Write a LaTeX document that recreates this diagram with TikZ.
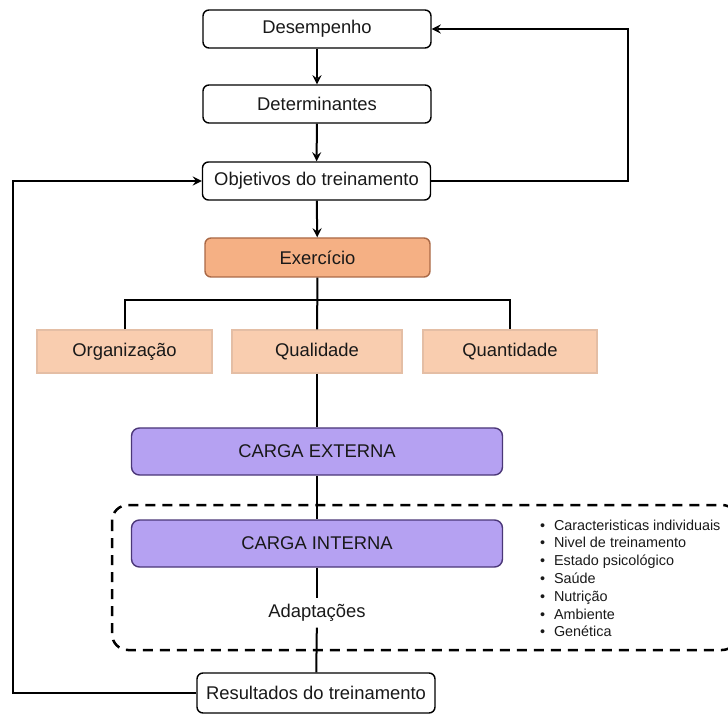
\documentclass[tikz,border=0pt]{standalone}
\usepackage{fontspec}
\setmainfont{Liberation Sans}
\usepackage{tikz}
\definecolor{exer}{RGB}{245, 176, 132}
\definecolor{exerdark}{RGB}{170, 105, 70}
\definecolor{peach}{RGB}{249, 205, 175}
\definecolor{peachline}{RGB}{228, 190, 165}
\definecolor{carga}{RGB}{181, 161, 242}
\definecolor{cargadark}{RGB}{75, 55, 120}

\begin{document}
\begin{tikzpicture}[x=0.5pt, y=-0.5pt, line width=1pt, >=stealth,
  every node/.style={font=\fontsize{9.2}{11}\selectfont, inner sep=0pt, text=black!90},
  whitebox/.style={draw, rounded corners=3pt, fill=white, line width=0.7pt,
                   minimum width=114pt, minimum height=19pt},
  exerbox/.style={draw=exerdark, rounded corners=3pt, fill=exer, line width=0.7pt,
                  minimum width=112.5pt, minimum height=19.5pt},
  peachbox/.style={draw=peachline, fill=peach, line width=0.6pt,
                   minimum width=86pt, minimum height=21.5pt},
  cargabox/.style={draw=cargadark, rounded corners=4pt, fill=carga, line width=0.7pt,
                   minimum width=185.5pt, minimum height=23.5pt},
]

  \useasboundingbox (0, 0) rectangle (728, 716);

  \node[whitebox] (des) at (317, 29) {Desempenho};
  \node[whitebox] (det) at (317, 104) {Determinantes};
  \node[whitebox] (obj) at (316.5, 181) {Objetivos do treinamento};
  \draw[->] (des) -- (det);
  \draw[->] (det) -- (obj);

  %
  \node[exerbox] (exe) at (317.5, 257.5) {Exercício};
  \draw[->] (obj) -- (exe);

  \node[peachbox, minimum width=87.5pt] (org) at (124.5, 351.5) {Organização};
  \node[peachbox, minimum width=85pt] (qua) at (317, 351.5) {Qualidade};
  \node[peachbox, minimum width=87pt] (qnt) at (510, 351.5) {Quantidade};
  \coordinate (branch) at (317, 300);
  \draw (exe) -- (qua);
  \draw (org.north) |- (branch) -| (qnt.north);

  %
  \node[cargabox] (ext) at (317, 451.5) {CARGA EXTERNA};
  \node[cargabox] (int) at (317, 543.5) {CARGA INTERNA};
  \node[inner sep=2.5pt] (ada) at (317, 613) {Adaptações};
  \node[whitebox, minimum width=119pt, minimum height=20pt] (res) at (316, 693)
    {Resultados do treinamento};

  \draw[line width=1.25pt, dashed, dash pattern=on 5pt off 3.5pt, rounded corners=8pt]
    (112, 505) rectangle (738, 650);

  \draw (qua) -- (ext);
  \draw (ext) -- (int);
  \draw (int) -- (ada);
  \draw (ada) -- (res);

  \foreach \t [count=\n] in {Caracteristicas individuais, Nivel de treinamento,
      Estado psicológico, Saúde, Nutrição, Ambiente, Genética} {
    \node[anchor=base west, font=\fontsize{7.2}{9}\selectfont] (f\n) at (539, 512.2 + 17.8 * \n)
      {\makebox[7pt][l]{\textbullet}\t};
  }

  %
  \coordinate (left) at (13, 0);
  \coordinate (right) at (628, 0);
  \draw[->] (res.west) -| (left |- res) |- (obj.west);
  \draw[->] (obj.east) -| (right |- obj) |- (des.east);

\end{tikzpicture}
\end{document}
